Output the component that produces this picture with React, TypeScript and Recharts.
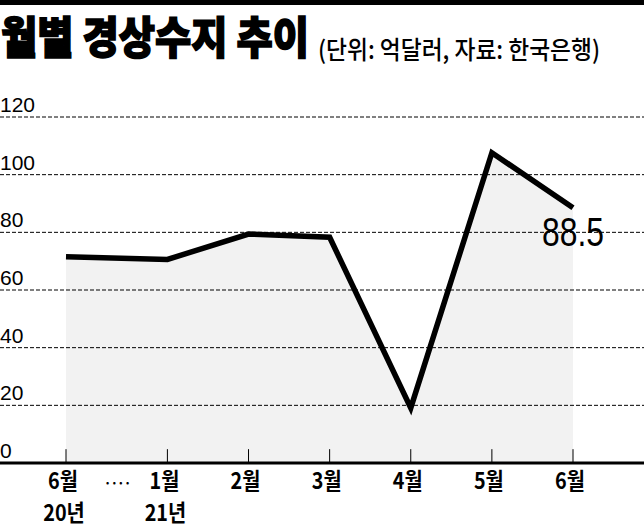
import { ComposedChart, Area, XAxis, YAxis, ReferenceLine } from 'recharts';

const months = ['6월', '1월', '2월', '3월', '4월', '5월', '6월'];
const years = ['20년', '21년', '', '', '', '', ''];
// slot on the x axis; the wider first step is the break (····) between 2020 and 2021
const slots = [0, 1.25, 2.25, 3.25, 4.25, 5.25, 6.25];
const balance = [71.5, 70.6, 79.4, 78.3, 19.1, 107.6, 88.5];
const yTicks = [0, 20, 40, 60, 80, 100, 120];
const breakSlot = 0.63;
const breakMark = '····';

const data = slots.map((s, i) => ({ slot: s, value: balance[i] }));

const W = 644;
const H = 530;
const KR = '"Noto Sans CJK KR", sans-serif';
const NUM = '"Liberation Sans Narrow", "Liberation Sans", sans-serif';
const TICK_LEN = 4.8; // tick mark height, in axis units (~14px)

const krLabel = (x: number, y: number, s: string) => (
    <text x={0} y={0} transform={`translate(${x},${y}) scale(0.86,1)`} textAnchor="middle"
        fontFamily={KR} fontSize={23} fontWeight={700} fill="#000">
        {s}
    </text>
);

const XTick = (props: any) => {
    const { x, y, payload } = props;
    if (payload.value === breakSlot) {
        return (
            <text x={x} y={y + 25} textAnchor="middle" fontFamily={KR} fontSize={13} fontWeight={700} fill="#000" letterSpacing={-1}>
                {breakMark}
            </text>
        );
    }
    const i = slots.indexOf(payload.value);
    return (
        <g>
            {krLabel(x - 3, y + 26, months[i])}
            {years[i] && krLabel(x - 2, y + 58, years[i])}
        </g>
    );
};

const YLabel = (props: any) => {
    const { viewBox, value } = props;
    return (
        <text x={0} y={viewBox.y - 5} textAnchor="start" fontFamily={NUM} fontSize={21} fill="#000">
            {value}
        </text>
    );
};

const LastLabel = (props: any) => {
    const { x, y, index } = props;
    if (index !== balance.length - 1) return null;
    return (
        <text x={x} y={y + 38} textAnchor="middle" fontFamily={NUM} fontSize={41} fill="#000"
            textLength={62} lengthAdjust="spacingAndGlyphs">
            {balance[index]}
        </text>
    );
};

export default function App() {
    return (
        <div style={{ position: 'absolute', left: 0, top: 0, width: W, height: H, background: '#fff' }}>
            <svg width={W} height={80} style={{ position: 'absolute', left: 0, top: 0 }}>
                <rect x={0} y={0} width={W} height={5} fill="#000" />
                <text x={1} y={54} fontFamily={KR} fontSize={44} fontWeight={900} fill="#000"
                    stroke="#000" strokeWidth={1.6} textLength={308} lengthAdjust="spacingAndGlyphs">
                    월별 경상수지 추이
                </text>
                <text x={318} y={59} fontFamily={KR} fontSize={25} fontWeight={500} fill="#000"
                    textLength={282} lengthAdjust="spacingAndGlyphs">
                    (단위: 억달러, 자료: 한국은행)
                </text>
            </svg>
            <div style={{ position: 'absolute', left: 0, top: 0 }}>
                <ComposedChart width={W} height={H} data={data} margin={{ top: 117, right: 0, bottom: 0, left: 0 }}>
                    <XAxis
                        dataKey="slot"
                        type="number"
                        domain={[0, 6.25]}
                        ticks={[...slots, breakSlot]}
                        padding={{ left: 66, right: 71 }}
                        height={67}
                        tickSize={0}
                        tickMargin={0}
                        tickLine={false}
                        axisLine={{ stroke: '#000', strokeWidth: 3 }}
                        tick={<XTick />}
                        interval={0}
                    />
                    <YAxis type="number" domain={[0, 120]} ticks={yTicks} hide />
                    <Area
                        type="linear"
                        dataKey="value"
                        fill="#f2f2f2"
                        fillOpacity={1}
                        stroke="#000"
                        strokeWidth={5.5}
                        strokeLinejoin="miter"
                        dot={false}
                        activeDot={false}
                        label={<LastLabel />}
                        isAnimationActive={false}
                    />
                    {yTicks.map((t) => (
                        <ReferenceLine key={t} y={t} stroke={t === 0 ? 'none' : '#000'} strokeWidth={1}
                            strokeDasharray="4 2" label={<YLabel value={t} />} />
                    ))}
                    {slots.map((s) => (
                        <ReferenceLine key={'x' + s} segment={[{ x: s, y: 0 }, { x: s, y: TICK_LEN }]}
                            stroke="#000" strokeWidth={1} />
                    ))}
                </ComposedChart>
            </div>
        </div>
    );
}
